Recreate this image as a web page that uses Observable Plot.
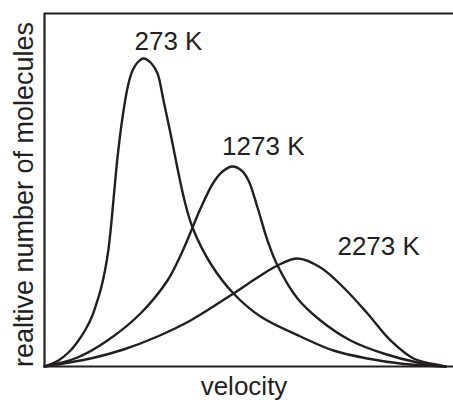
<!DOCTYPE html>
<html>
<head>
<meta charset="utf-8">
<script src="https://cdn.jsdelivr.net/npm/d3@7"></script>
<script src="https://cdn.jsdelivr.net/npm/@observablehq/plot@0.6"></script>
<style>
  html, body { margin: 0; padding: 0; background: #fff; }
</style>
</head>
<body>
<div id="chart"></div>
<script>
// velocity (arbitrary units 0–100) and relative number of molecules (0–100)
const v273 = [0, 3.42, 6.36, 8.31, 9.90, 11.61, 12.71, 13.81, 14.79, 15.60, 16.28, 16.92, 17.85, 19.07, 20.42, 21.52, 22.74, 24.21, 26.16, 27.63, 29.10, 30.81, 32.52, 34.23, 36.19, 40.59, 46.21, 52.81, 62.59, 70.66, 78.97, 87.04, 98.04];
const n273 = [0, 1.70, 4.53, 7.37, 10.20, 14.16, 17.85, 22.10, 27.20, 32.86, 39.94, 47.88, 59.21, 70.54, 79.60, 83.85, 86.12, 87.25, 85.84, 83.00, 75.35, 66.01, 56.09, 47.03, 39.38, 29.18, 20.68, 14.16, 8.50, 4.53, 2.27, 0.85, 0];

const v1273 = [0, 8.07, 15.40, 23.47, 30.07, 33.25, 35.70, 38.14, 41.32, 43.52, 45.97, 48.17, 49.88, 52.08, 54.52, 56.97, 61.86, 67.48, 74.82, 82.89, 91.20, 98.04];
const n1273 = [0, 2.55, 7.37, 15.01, 24.36, 31.44, 37.96, 44.76, 52.12, 55.24, 56.66, 55.52, 52.69, 45.04, 35.69, 28.61, 19.26, 13.03, 7.37, 3.68, 1.13, 0];

const v2273 = [0, 11.25, 19.32, 27.63, 35.70, 46.21, 52.08, 56.97, 61.86, 67.48, 73.11, 78.97, 84.60, 90.22, 96.82, 98.04];
const n2273 = [0, 2.27, 4.82, 8.50, 13.03, 20.68, 25.21, 28.61, 30.59, 28.05, 22.38, 15.01, 7.37, 2.27, 0.28, 0];

const seriesNames = ["273 K", "1273 K", "2273 K"];
const labelX = [30.3, 53.5, 81.7];
const labelY = [92.1, 62.2, 33.9];

const xLabel = "velocity";
const yLabel = "realtive number of molecules";

const toRows = (name, vs, ns) => vs.map((v, i) => ({series: name, v, n: ns[i]}));
const rows = [
  ...toRows(seriesNames[0], v273, n273),
  ...toRows(seriesNames[1], v1273, n1273),
  ...toRows(seriesNames[2], v2273, n2273)
];
const labels = seriesNames.map((s, i) => ({s, x: labelX[i], y: labelY[i]}));

const ink = "#231f20";
const font = "'Liberation Sans', Arial, Helvetica, sans-serif";

const chart = Plot.plot({
  width: 453,
  height: 403,
  marginLeft: 44,
  marginTop: 13,
  marginBottom: 37,
  marginRight: 0,
  style: {fontFamily: font, background: "#fff"},
  x: {domain: [0, 100], axis: null},
  y: {domain: [0, 100], axis: null},
  marks: [
    Plot.ruleY([0, 100], {stroke: ink, strokeWidth: 2.2}),
    Plot.ruleX([0], {stroke: ink, strokeWidth: 2.2}),
    Plot.line(rows, {x: "v", y: "n", z: "series", stroke: ink, strokeWidth: 2.4, curve: "catmull-rom"}),
    Plot.text(labels, {x: "x", y: "y", text: "s", fontSize: 26, fill: ink, textAnchor: "middle", lineAnchor: "middle"}),
    Plot.text([xLabel], {frameAnchor: "bottom", dx: -5, dy: 20, fontSize: 26, fill: ink, textAnchor: "middle", lineAnchor: "middle"}),
    Plot.text([yLabel], {frameAnchor: "left", dx: -20, dy: 4.5, rotate: -90, fontSize: 27, fill: ink, textAnchor: "middle", lineAnchor: "middle"})
  ]
});
document.getElementById("chart").appendChild(chart);
</script>
</body>
</html>
